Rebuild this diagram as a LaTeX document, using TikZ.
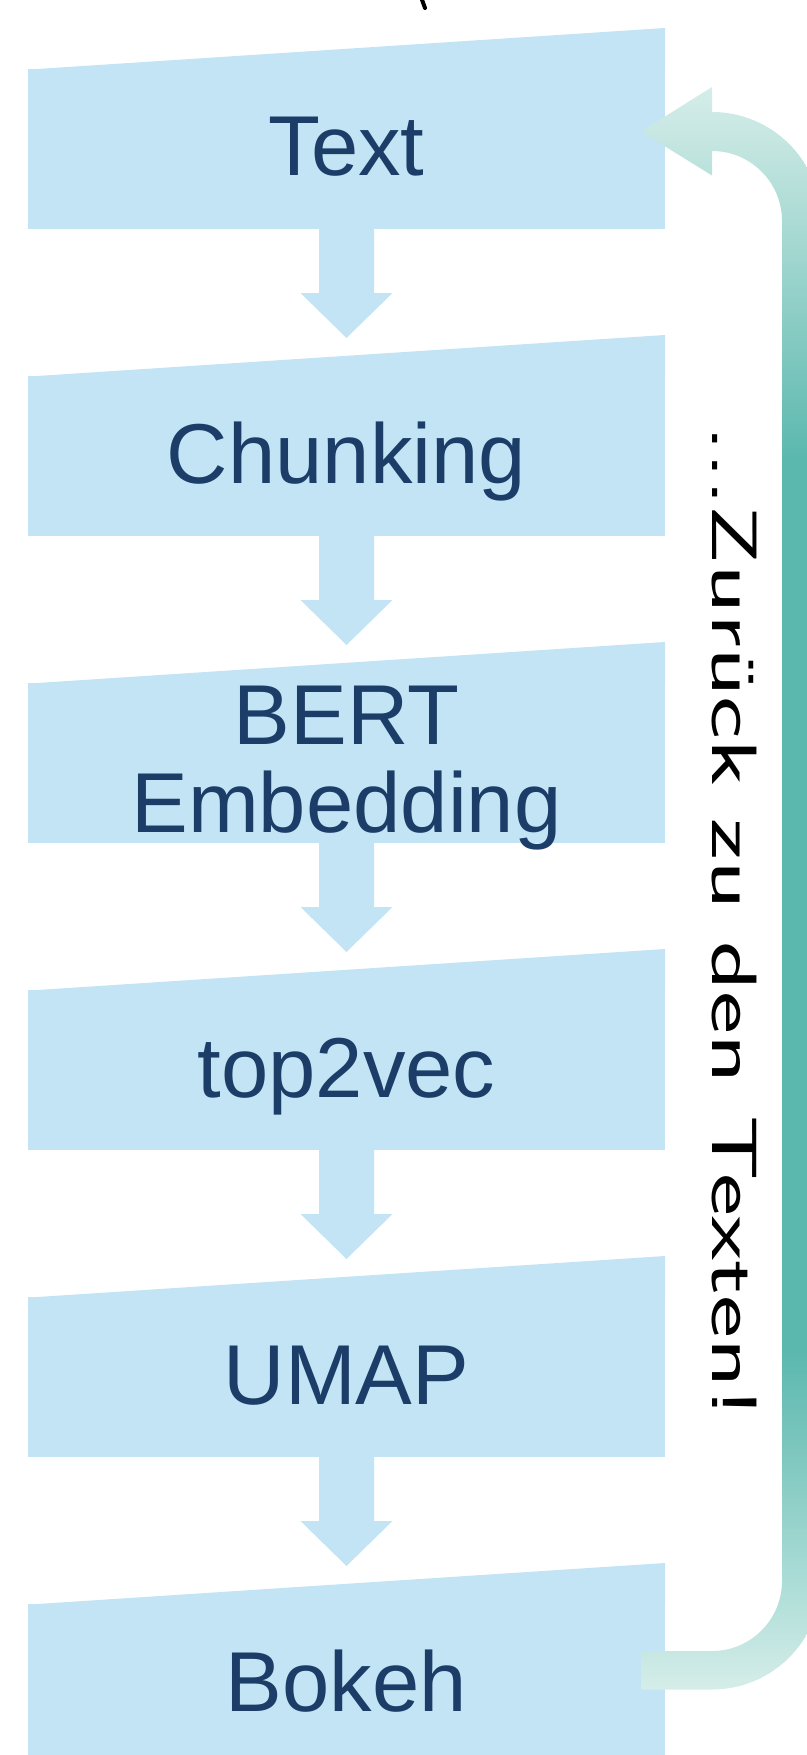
\documentclass[tikz,border=0pt]{standalone}
\usepackage{fontspec}
\newfontfamily\labfont{Liberation Sans}
\usetikzlibrary{calc}
\definecolor{boxfill}{HTML}{C2E4F4}
\definecolor{labcol}{HTML}{1B3D67}
\definecolor{tealA}{HTML}{D6EDE9}
\definecolor{tealB}{HTML}{AADCD6}
\definecolor{tealC}{HTML}{82C9C1}
\definecolor{tealD}{HTML}{5BB8AE}
\definecolor{tealE}{HTML}{A2D7D0}
\pgfdeclareverticalshading{backshade}{100bp}{color(0bp)=(tealA); color(25bp)=(tealA); color(28.5bp)=(tealB); color(32bp)=(tealC); color(35.6bp)=(tealD); color(63.36bp)=(tealD); color(69.91bp)=(tealE); color(75bp)=(tealA); color(100bp)=(tealA)}
\begin{document}
\begin{tikzpicture}[x=0.5pt,y=-0.5pt,
  boxbody/.style={fill=boxfill, draw=none, minimum width=318.5pt, minimum height=80pt, inner sep=0pt, outer sep=0pt},
  lab/.style={text=labcol, font=\labfont\fontsize{42.5}{44}\selectfont, inner sep=0pt, anchor=base},
  hand/.style={font=\sffamily\fontsize{32}{34}\selectfont, inner sep=0pt, anchor=base, rotate=-90, xscale=1.6},
]
\useasboundingbox (0,0) rectangle (807,1755);
\clip (0,0) rectangle (807,1755);

% box bodies
\foreach \i [evaluate=\i as \yc using {149+307*(\i-1)}] in {1,...,6} {
  \node[boxbody] (b\i) at (346.5,\yc) {};
  \fill[boxfill] ($(b\i.north west)+(0,0.6)$) -- ($(b\i.north east)+(0,-41)$) -- ($(b\i.north east)+(0,0.6)$) -- cycle;
}

% block arrows between boxes
\foreach \a in {1,...,5} {
  \fill[boxfill] ($(b\a.south)+(-27.5,-1)$) -- ++(0,65) -- ++(-18.5,0) -- ++(46,45) -- ++(46,-45) -- ++(-18.5,0) -- ++(0,-65) -- cycle;
}

% labels
\node[lab] (t1) at (346.5,176) {Text};
\node[lab] (t2) at (346.5,483) {Chunking};
\node[lab, anchor=center, align=center] (t3) at (346.5,768) {BERT\\Embedding};
\node[lab] (t4) at (346.5,1097) {top2vec};
\node[lab] (t5) at (346.5,1404) {UMAP};
\node[lab] (t6) at (346.5,1711) {Bokeh};

% curved return arrow
\coordinate (tail) at ($(b6.east)+(-24,-14)$);
\coordinate (tip) at ($(b1.east)+(-24,-17.5)$);
\shade[shading=backshade] ($(tail)+(0,19.5)$) -- ++(71,0)
  arc[start angle=90,end angle=0,radius=109]
  -- ($(tip)+(180,89.5)$)
  arc[start angle=0,end angle=-90,radius=109]
  -- ++(0,-25) -- (tip) -- ++(71,44) -- ++(0,-24.5)
  arc[start angle=-90,end angle=0,radius=70]
  -- ($(tail)+(141,-89)$)
  arc[start angle=0,end angle=90,radius=70]
  -- ($(tail)+(0,-19)$) -- cycle;

% handwritten note
\node[hand] (note) at (712,922) {...Zur\"uck zu den Texten!};

% small handwriting fragment at the top edge
\draw[line width=2pt, line cap=round] (421,-3) -- (425,8);
\end{tikzpicture}
\end{document}
